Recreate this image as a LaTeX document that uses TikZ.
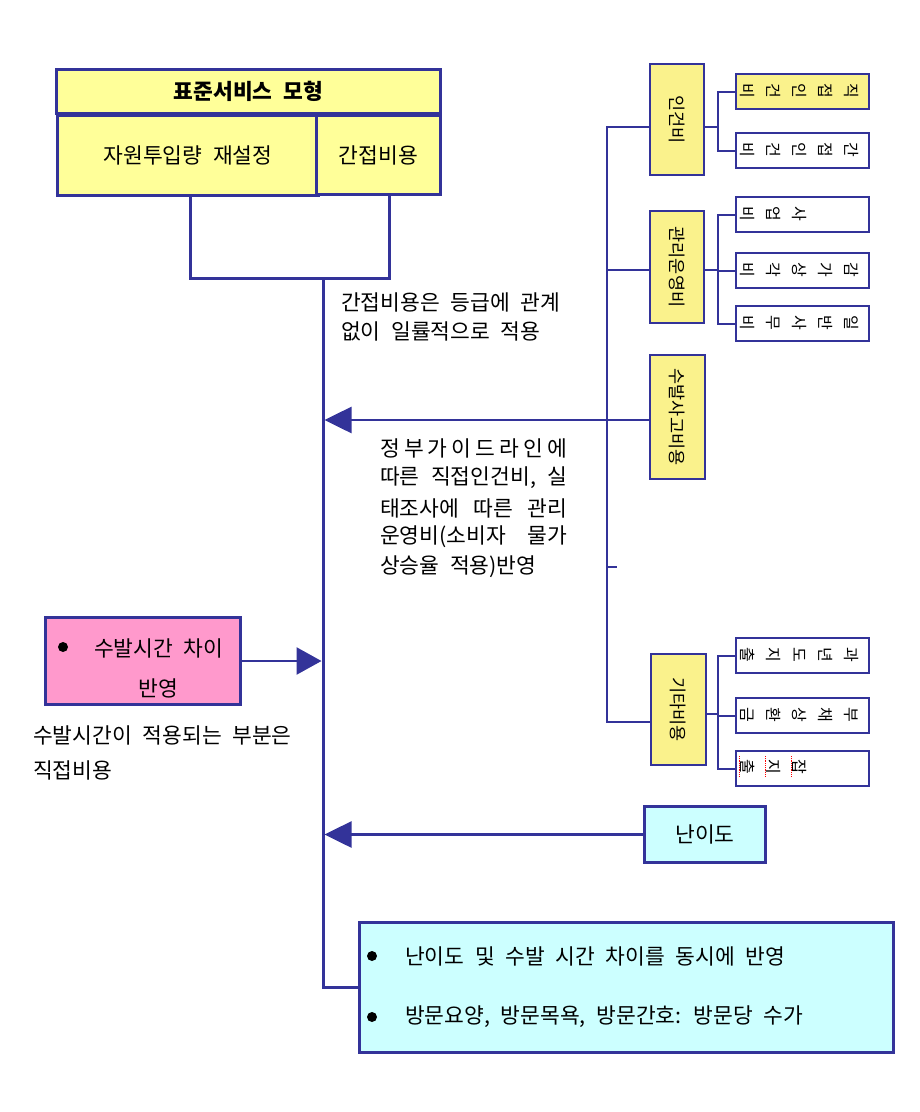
\documentclass[tikz,border=0pt]{standalone}
\usepackage{fontspec}
\setmainfont{Noto Sans CJK KR}[WordSpace=2.2]
\usetikzlibrary{arrows.meta}
\definecolor{navy}{HTML}{333399}
\definecolor{boxyellow}{HTML}{FFFF99}
\definecolor{colyellow}{HTML}{FAF28C}
\definecolor{boxpink}{HTML}{FF99CC}
\definecolor{boxcyan}{HTML}{CCFFFF}
\begin{document}
\begin{tikzpicture}[x=1pt,y=-1pt,
  ln/.style={draw=navy, line width=3pt},
  lnthin/.style={draw=navy, line width=2pt},
  arr/.style={draw=navy, line width=2.6pt, fill=navy, -{Triangle[length=27pt,width=26pt]}},
  bigbox/.style={draw=navy, line width=3pt, anchor=north west, inner sep=0pt, font=\fontsize{21.5}{24}\selectfont},
  colbox/.style={draw=navy, line width=2pt, fill=colyellow, anchor=north west, inner sep=0pt, minimum width=54pt},
  subbox/.style={draw=navy, line width=2pt, fill=white, anchor=north west, inner sep=0pt, minimum width=133pt, minimum height=35pt},
  collabel/.style={rotate=-90, inner sep=0pt, font=\fontsize{17.5}{20}\selectfont},
  sublabel/.style={rotate=-90, anchor=south, inner sep=0pt, align=center, font=\fontsize{16}{26}\selectfont},
  txt/.style={anchor=west, inner sep=0pt, font=\fontsize{21.5}{24}\selectfont},
  bullet/.style={circle, fill=black, inner sep=0pt, minimum size=10pt}
]
\useasboundingbox (0,0) rectangle (920,1112);

% top-left model box
\node[bigbox, fill=boxyellow, minimum width=384pt, minimum height=44pt] (title) at (55,68) {\bfseries 표준서비스 모형};
\node[bigbox, fill=boxyellow, minimum width=261pt, minimum height=80pt] (left) at (56,114) {자원투입량 재설정};
\node[bigbox, fill=boxyellow, minimum width=124pt, minimum height=79pt] (right) at (315,114) {간접비용};

\coordinate (bl) at (190,278);
\coordinate (br) at (389,278);
\draw[ln] (left.south -| bl) -- (bl) -- (br) -- (right.south -| br);

% main vertical line
\coordinate (mtop) at (323,278);
\coordinate (mainl) at (321.5,0);
\coordinate (mainr) at (324.5,0);

% notes
\node[txt] (n1) at (341,302) {간접비용은 등급에 관계};
\node[txt] (n2) at (341,331) {없이 일률적으로 적용};

\node[txt] (g1) at (380,448) {\makebox[187pt][s]{정\hfill 부\hfill 가\hfill 이\hfill 드\hfill 라\hfill 인\hfill 에}};
\node[txt] (g2) at (380,478) {\makebox[187pt][s]{따른\hfill 직접인건비,\hfill 실}};
\node[txt] (g3) at (380,508) {\makebox[187pt][s]{태조사에\hfill 따른\hfill 관리}};
\node[txt] (g4) at (380,537) {\makebox[187pt][s]{운영비(소비자\hfill 물가}};
\node[txt] (g5) at (380,567) {상승율 적용)반영};

% right column boxes
\node[colbox, minimum height=111pt] (rb1) at (649,63) {};
\node[colbox, minimum height=112pt] (rb2) at (649,210) {};
\node[colbox, minimum height=124pt, minimum width=55pt] (rb3) at (649,354) {};
\node[colbox, minimum height=111pt, minimum width=55pt] (rb4) at (650,653) {};
\node[collabel] (l1) at (rb1.center) {인건비};
\node[collabel] (l2) at (rb2.center) {관리운영비};
\node[collabel] (l3) at (rb3.center) {수발사고비용};
\node[collabel] (l4) at (rb4.center) {기타비용};

% sub boxes
\node[subbox, fill=colyellow] (c11) at (735,73) {};
\node[subbox] (c12) at (735,132) {};
\node[subbox] (c21) at (735,196) {};
\node[subbox] (c22) at (735,252) {};
\node[subbox] (c23) at (735,305) {};
\node[subbox] (c41) at (735,637) {};
\node[subbox] (c42) at (735,697) {};
\node[subbox] (c43) at (735,750) {};

\node[sublabel] (s11) at (740,90.5) {직\\접\\인\\건\\비};
\node[sublabel] (s12) at (740,149.5) {간\\접\\인\\건\\비};
\node[sublabel] (s21) at (740,213.5) {사\\업\\비};
\node[sublabel] (s22) at (740,269.5) {감\\가\\상\\각\\비};
\node[sublabel] (s23) at (740,322.5) {일\\반\\사\\무\\비};
\node[sublabel] (s41) at (740,654.5) {과\\년\\도\\지\\출};
\node[sublabel] (s42) at (740,714.5) {부\\채\\상\\환\\금};
\node[sublabel] (s43) at (740,767) {잡\\지\\출};
\draw[red, densely dotted, line width=0.8pt] (739,756) -- (739,777);
\draw[red, densely dotted, line width=0.8pt] (765,756) -- (765,777);
\draw[red, densely dotted, line width=0.8pt] (791,756) -- (791,777);

% sub connectors
\coordinate (sc1) at (718,127);
\coordinate (sc2) at (718,270);
\coordinate (sc4) at (718,714);
\draw[lnthin] (sc1 -| rb1.east) -- (sc1);
\draw[lnthin] (c11.west) -| (sc1);
\draw[lnthin] (c12.west) -| (sc1);
\draw[lnthin] (sc2 -| rb2.east) -- (sc2);
\draw[lnthin] (c21.west) -| (sc2);
\draw[lnthin] (c22.west) -| (sc2);
\draw[lnthin] (c23.west) -| (sc2);
\draw[lnthin] (sc4 -| rb4.east) -- (sc4);
\draw[lnthin] (c41.west) -| (sc4);
\draw[lnthin] (c42.west) -| (sc4);
\draw[lnthin] (c43.west) -| (sc4);

% right tree
\coordinate (t1) at (607,127);
\coordinate (t2) at (607,270);
\coordinate (t3) at (607,420);
\coordinate (t5) at (607,567);
\coordinate (t4) at (607,722);
\draw[lnthin] (t1 -| rb1.west) -- (t1) -- (t4) -- (t4 -| rb4.west);
\draw[lnthin] (t2) -- (t2 -| rb2.west);
\draw[lnthin] (t3) -- (t3 -| rb3.west);
\draw[lnthin] (t5) -- ++(10,0);
\draw[arr] (t3) -- (t3 -| mainr);

% pink box
\node[bigbox, fill=boxpink, minimum width=195pt, minimum height=87pt] (pink) at (44,616) {};
\node[bullet] (pb) at (63,647) {};
\node[txt] (p1) at (94,648) {수발시간 차이};
\node[txt, anchor=center] (p2) at (158,688) {반영};
\draw[draw=navy, line width=2.6pt, -{Triangle[length=25pt,width=27pt]}] (pink.east) -- (pink.east -| mainl);
\node[txt] (q1) at (33,735) {수발시간이 적용되는 부분은};
\node[txt] (q2) at (33,770) {직접비용};

% difficulty box
\node[bigbox, fill=boxcyan, minimum width=121pt, minimum height=56pt] (nan) at (643,805) {난이도};
\draw[arr] (nan.west) -- (nan.west -| mainr);

% bottom box
\node[bigbox, fill=boxcyan, minimum width=534pt, minimum height=130pt] (bot) at (358,921) {};
\node[bullet] (bb1) at (372,956) {};
\node[bullet] (bb2) at (372,1017) {};
\node[txt] (r1) at (405,956) {난이도 및 수발 시간 차이를 동시에 반영};
\node[txt] (r2) at (405,1017) {방문요양, 방문목욕, 방문간호: 방문당 수가};

\draw[ln] (mtop) |- (bot.west);
\end{tikzpicture}
\end{document}
